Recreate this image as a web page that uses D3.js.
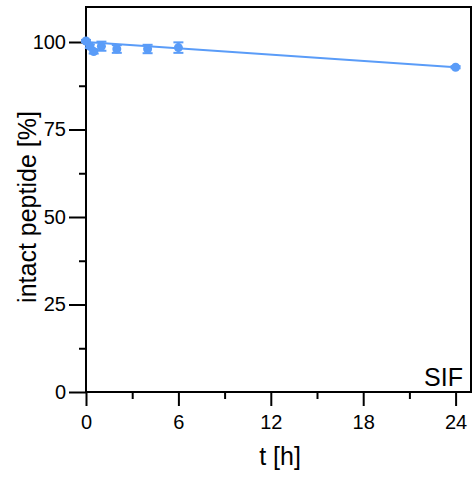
<!DOCTYPE html>
<html>
<head>
<meta charset="utf-8">
<script src="https://cdn.jsdelivr.net/npm/d3@7"></script>
<style>
  body { margin: 0; background: #fff; }
  svg { display: block; font-family: "Liberation Sans", Arial, sans-serif; }
  .axis path, .axis line { stroke: #000; stroke-width: 2; }
  .axis text { font-size: 20px; fill: #000; }
</style>
</head>
<body>
<svg width="475" height="477"></svg>
<script>
// time points [h], mean intact peptide [%] and error (SD)
var times = [0, 0.25, 0.5, 1, 2, 4, 6, 24];
var means = [100.3, 98.8, 97.3, 98.8, 98.0, 98.0, 98.4, 92.8];
var errs  = [0.3, 0.5, 0.6, 1.3, 1.1, 1.2, 1.5, 0.3];
// linear fit, end points
var fitT = [0, 24];
var fitV = [100.0, 92.8];
var xTicks = [0, 6, 12, 18, 24];
var xMinor = [3, 9, 15, 21];
var yTicks = [0, 25, 50, 75, 100];
var yMinor = [12.5, 37.5, 62.5, 87.5];

var color = "#5a9cf8";

var chart = (function(self){
  self.init = function(){
    var svg = d3.select("svg");
    var x = d3.scaleLinear().domain([0, 25]).range([86, 471]);
    var y = d3.scaleLinear().domain([0, 110]).range([392, 7]);

    // frame
    svg.append("rect")
        .attr("x", x(0)).attr("y", y(110))
        .attr("width", x(25) - x(0)).attr("height", y(0) - y(110))
        .attr("fill", "none").attr("stroke", "#000").attr("stroke-width", 2);

    // minor ticks first
    svg.append("g").attr("class", "axis")
        .attr("transform", "translate(0," + y(0) + ")")
        .call(d3.axisBottom(x).tickValues(xMinor).tickSize(7).tickFormat(""))
        .select(".domain").remove();
    svg.append("g").attr("class", "axis")
        .attr("transform", "translate(" + x(0) + ",0)")
        .call(d3.axisLeft(y).tickValues(yMinor).tickSize(7).tickFormat(""))
        .select(".domain").remove();

    var xa = svg.append("g").attr("class", "axis")
        .attr("transform", "translate(0," + y(0) + ")")
        .call(d3.axisBottom(x).tickValues(xTicks).tickSize(14).tickPadding(9).tickSizeOuter(0));
    xa.select(".domain").remove();

    var ya = svg.append("g").attr("class", "axis")
        .attr("transform", "translate(" + x(0) + ",0)")
        .call(d3.axisLeft(y).tickValues(yTicks).tickSize(17).tickPadding(3).tickSizeOuter(0));
    ya.select(".domain").remove();

    // titles
    svg.append("text")
        .attr("x", 280).attr("y", 465)
        .attr("text-anchor", "middle")
        .style("font-size", "25px")
        .text("t [h]");
    svg.append("text")
        .attr("transform", "translate(36,207) rotate(-90)")
        .attr("text-anchor", "middle")
        .style("font-size", "25px")
        .text("intact peptide [%]");
    svg.append("text")
        .attr("x", 463).attr("y", 386)
        .attr("text-anchor", "end")
        .style("font-size", "25px")
        .text("SIF");

    // fit line
    svg.append("line")
        .attr("x1", x(fitT[0])).attr("y1", y(fitV[0]))
        .attr("x2", x(fitT[1])).attr("y2", y(fitV[1]))
        .attr("stroke", color).attr("stroke-width", 2);

    var pts = times.map(function(t, i){ return {t: t, v: means[i], e: errs[i]}; });

    var eb = svg.append("g").selectAll("g")
        .data(pts)
      .enter().append("g")
        .attr("stroke", color).attr("stroke-width", 2);
    eb.append("line")
        .attr("x1", function(d){ return x(d.t); })
        .attr("x2", function(d){ return x(d.t); })
        .attr("y1", function(d){ return y(d.v + d.e); })
        .attr("y2", function(d){ return y(d.v - d.e); });
    eb.append("line")
        .attr("x1", function(d){ return x(d.t) - 5; })
        .attr("x2", function(d){ return x(d.t) + 5; })
        .attr("y1", function(d){ return y(d.v + d.e); })
        .attr("y2", function(d){ return y(d.v + d.e); });
    eb.append("line")
        .attr("x1", function(d){ return x(d.t) - 5; })
        .attr("x2", function(d){ return x(d.t) + 5; })
        .attr("y1", function(d){ return y(d.v - d.e); })
        .attr("y2", function(d){ return y(d.v - d.e); });

    svg.append("g").selectAll("circle")
        .data(pts)
      .enter().append("circle")
        .attr("cx", function(d){ return x(d.t); })
        .attr("cy", function(d){ return y(d.v); })
        .attr("r", 4.5)
        .attr("fill", color);
  };
  return self;
})({});

chart.init();
</script>
</body>
</html>
